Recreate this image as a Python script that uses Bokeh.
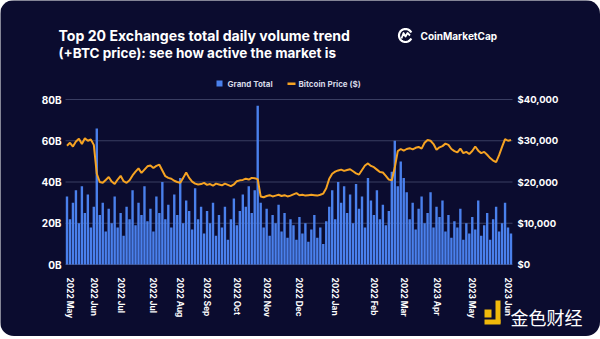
import numpy as np
from bokeh.plotting import figure
from bokeh.models import Range1d, LinearAxis, FixedTicker, Label, BoxAnnotation, PolyAnnotation, ColumnDataSource
from bokeh.embed import file_html
from bokeh.resources import INLINE

# ---- data (one value per ~2.7 days, May 2022 - Jun 2023) ----
volume_b = [33, 22, 30, 36, 20, 38, 25, 34, 18, 28,
            66,
            24, 30, 16, 27, 20, 33, 18, 25, 14, 28, 22,
            36, 19, 30, 24, 38, 21, 27, 16, 33, 25, 40, 22,
            29, 18, 34, 24, 42, 20, 31, 26, 17, 37, 22, 28,
            15, 26, 20, 30, 14, 24, 18, 28, 12, 22, 32, 19, 26,
            34, 28, 38, 25, 36, 77,
            30, 18, 27, 14, 24, 20, 29, 16, 25, 13, 22,
            19, 12, 23, 15, 20, 11, 17, 24, 13, 18, 10, 21,
            28, 36, 22, 40, 30, 38, 25, 34, 20, 39, 27, 33, 18, 42, 31, 24, 36, 22, 29, 19, 26,
            45, 60, 38, 50, 42, 35,
            22, 30, 17, 27, 33, 20, 25, 35, 18, 28, 23, 31,
            16, 24, 13, 21, 18, 27, 12, 20, 15, 23, 17, 31, 14, 19, 25, 12, 22, 28, 16, 20, 30, 18, 15]

btc_price_k = [28.8, 29.5, 28.6, 29.8, 30.5, 29.2, 30.6, 30.0, 30.3, 29.0,
               22.0, 20.0,
               19.8, 20.5, 21.2, 20.1, 19.5, 20.6, 21.5, 20.2, 19.8, 20.4,
               21.6, 22.5, 23.3, 22.2, 23.0, 23.8, 24.0, 23.4, 23.9, 24.2, 22.8, 21.4,
               21.0, 20.8, 20.3, 20.0, 19.8, 21.0, 22.3, 21.0, 20.1, 19.6, 19.4, 19.5,
               19.8, 19.3, 19.5, 19.1, 19.6, 19.4, 19.2, 19.6, 19.3, 19.0, 19.4, 20.2, 20.4,
               20.5, 20.8, 20.6, 21.0, 20.9, 20.7,
               16.5, 16.3, 16.6, 16.8, 16.5, 16.7, 16.9, 16.6, 16.8, 16.5, 16.7,
               17.0, 17.3, 16.8, 16.9, 16.7, 16.8, 16.9, 16.8, 16.7, 16.9, 17.2, 18.5,
               20.8, 22.0, 22.5, 22.8, 23.0, 22.7, 22.9, 23.1, 22.6, 22.1, 21.8, 22.9, 24.0, 24.5, 23.9, 23.6, 23.0, 22.4, 22.3, 21.5, 20.6,
               20.4, 23.5, 27.5, 28.0, 27.6, 28.0,
               28.2, 27.9, 28.3, 28.5, 28.1, 29.5, 30.2, 30.0, 29.2, 27.8, 28.4, 28.7,
               29.3, 29.0, 28.0, 27.5, 27.2, 28.1, 27.0, 27.3, 26.8, 27.5, 28.6, 27.6, 27.0, 27.3, 26.6, 25.8, 25.2, 24.8, 26.5, 28.5, 30.4, 30.0, 30.2]

x_tick_labels = ["2022 May", "2022 Jun", "2022 Jul", "2022 Jul", "2022 Aug", "2022 Sep", "2022 Oct",
                 "2022 Nov", "2022 Dec", "2022 Jan", "2022 Feb", "2022 Mar", "2023 Apr", "2023 May", "2023 Jun"]
x_tick_index = [1, 9, 18, 29, 38, 47, 57, 67, 78, 90, 103, 113, 124, 136, 148]

y_left_ticks = [0, 20, 40, 60, 80]
y_left_labels = ["0B", "20B", "40B", "60B", "80B"]
y_right_ticks = [0, 10000, 20000, 30000, 40000]
y_right_labels = ["$0", "$10,000", "$20,000", "$30,000", "$40,000"]

N = len(volume_b)
idx = list(range(N))
src = ColumnDataSource(dict(x=idx, vol=volume_b, price=[v * 1000 for v in btc_price_k]))

# ---- layout geometry (pixels) ----
W, H = 600, 336
PL, PR, PT, PB = 65, 512, 99, 264          # chart area inside the canvas
xpp = (PR - PL) / N                          # px per bar slot
ypp = (PB - PT) / y_left_ticks[-1]           # px per B
x0 = -0.5 - PL / xpp
x1 = N - 0.5 + (W - PR) / xpp
y0 = -(H - PB) / ypp
y1 = PB / ypp
pscale = y_right_ticks[-1] / y_left_ticks[-1]

BG = "#0b0c2f"
BLUE = "#4a80ec"
ORANGE = "#f6a322"
GRID = "#3a3e62"
FONT = "Inter"

p = figure(width=W, height=H, output_backend="svg", toolbar_location=None,
           x_range=Range1d(x0, x1), y_range=Range1d(y0, y1),
           min_border_left=0, min_border_right=0, min_border_top=0, min_border_bottom=0,
           background_fill_color=BG, border_fill_color=BG, outline_line_color=None)
p.styles = {"border-radius": "14px", "overflow": "hidden"}
p.extra_y_ranges = {"price": Range1d(y0 * pscale, y1 * pscale)}
p.xgrid.visible = False
p.ygrid.visible = False

# grid lines limited to the chart area
p.segment(x0=[-0.5] * len(y_left_ticks), x1=[N - 0.5] * len(y_left_ticks),
          y0=y_left_ticks, y1=y_left_ticks, line_color=GRID, line_width=1)

p.vbar(x="x", top="vol", width=0.8, bottom=0, source=src, fill_color=BLUE, line_color=None)
p.line(x="x", y="price", source=src, y_range_name="price", line_color=ORANGE, line_width=2)

# axes (fixed at the chart-area edges)
xa = p.xaxis[0]
xa.fixed_location = 0
xa.ticker = FixedTicker(ticks=x_tick_index)
xa.major_label_overrides = {t: l for t, l in zip(x_tick_index, x_tick_labels)}
xa.major_label_orientation = "vertical"
xa.major_label_standoff = 13
xa.major_label_text_font_size = "8.3px"

ya = p.yaxis[0]
ya.fixed_location = -0.5
ya.ticker = FixedTicker(ticks=y_left_ticks)
ya.major_label_overrides = {t: l for t, l in zip(y_left_ticks, y_left_labels)}
ya.major_label_standoff = 4
ya.major_label_text_font_size = "10px"

ry = LinearAxis(y_range_name="price", ticker=FixedTicker(ticks=y_right_ticks), fixed_location=N - 0.5,
                major_label_overrides={t: l for t, l in zip(y_right_ticks, y_right_labels)})
ry.major_label_standoff = 5
ry.major_label_text_font_size = "9.5px"
p.add_layout(ry, "right")

for ax in [xa, ya, ry]:
    ax.axis_line_color = None
    ax.major_tick_line_color = None
    ax.minor_tick_line_color = None
    ax.major_tick_out = 0
    ax.major_tick_in = 0
    ax.minor_tick_out = 0
    ax.minor_tick_in = 0
    ax.major_label_text_color = "white"
    ax.major_label_text_font = FONT
    ax.major_label_text_font_style = "bold"

# screen helpers (frame == canvas, origin bottom-left)
def sx(X):
    return X
def sy(Y):
    return H - Y

def lab(X, Y, text, size, color="white", bold=True, font=FONT, baseline="alphabetic"):
    p.add_layout(Label(x=sx(X), y=sy(Y), x_units="screen", y_units="screen", text=text,
                       text_color=color, text_font=font, text_font_style="bold" if bold else "normal",
                       text_font_size=size, text_baseline=baseline))

def box(l, r, t, b, color):
    p.add_layout(BoxAnnotation(left=sx(l), right=sx(r), top=sy(t), bottom=sy(b),
                               left_units="screen", right_units="screen", top_units="screen",
                               bottom_units="screen", fill_color=color, fill_alpha=1, line_color=None))

# title
lab(58, 35, "Top 20 Exchanges total daily volume trend", "14.1px")
lab(58, 52, "(+BTC price): see how active the market is", "13.5px")

# CoinMarketCap logo: ring + small wave
th = np.linspace(0.15 * np.pi, 1.85 * np.pi, 40)
p.line(x=list(x0 + (405 + 6.5 * np.cos(th)) / xpp), y=list(y0 + (H - 35 + 6.5 * np.sin(th)) / ypp),
       line_color="white", line_width=2.2)
wx = [401, 403, 405, 407, 409.5]
wy = [38, 32.5, 36, 32.5, 35]
p.line(x=[x0 + X / xpp for X in wx], y=[y0 + (H - Y) / ypp for Y in wy],
       line_color="white", line_width=1.8, line_join="round")
lab(420, 35, "CoinMarketCap", "10px", baseline="middle")

# legend
box(216, 222, 80, 86, BLUE)
lab(227, 83, "Grand Total", "8px", color="#d6d8e6", baseline="middle")
box(287, 295, 82, 84.5, ORANGE)
lab(298, 83, "Bitcoin Price ($)", "8px", color="#d6d8e6", baseline="middle")

# watermark
YEL = "#f0b90b"
box(484, 491, 309, 317, YEL)
box(495, 500, 300, 323, YEL)
box(484, 500, 319, 324, YEL)
lab(510, 316, "金色财经", "18px", bold=False, font="Noto Sans CJK SC", baseline="middle")

html = file_html(p, INLINE)
html = html.replace("<body>", '<body style="margin:0;background:#ffffff;">')
open("out.html", "w").write(html)
